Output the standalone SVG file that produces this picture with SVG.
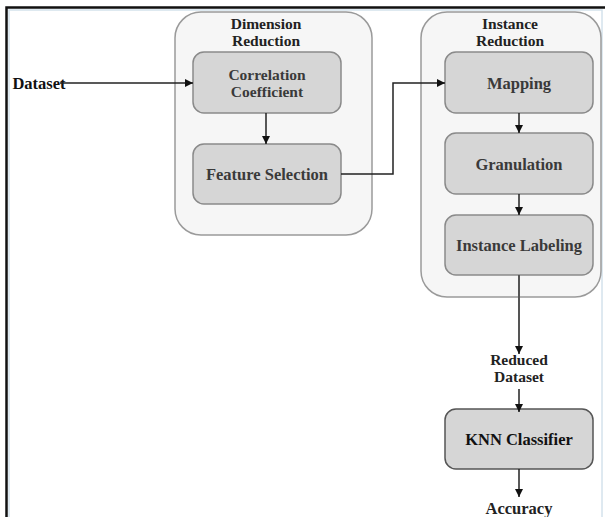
<svg xmlns="http://www.w3.org/2000/svg" width="605" height="517" viewBox="0 0 605 517">
<style>
.cont{fill:#f6f6f6;stroke:#9a9a9a;stroke-width:1.5}
.box{fill:#d6d6d6;stroke:#8a8a8a;stroke-width:1.5}
.t{font-family:"Liberation Serif","Tinos","Times New Roman","DejaVu Serif",serif;font-weight:bold;font-size:16.5px;text-anchor:middle;fill:#3a3a3a}
.t2{font-size:15.5px}
.h{font-family:"Liberation Serif","Tinos","Times New Roman","DejaVu Serif",serif;font-weight:bold;font-size:15.5px;text-anchor:middle;fill:#222}
.e{fill:none;stroke:#222;stroke-width:1.5}
</style>
<defs>
<marker id="ah" viewBox="0 0 10 10" refX="10" refY="5" markerWidth="8" markerHeight="8" markerUnits="userSpaceOnUse" orient="auto">
<path d="M0,0 L10,5 L0,10 z" fill="#111"/>
</marker>
</defs>
<rect x="0" y="0" width="605" height="517" fill="#fff"/>
<rect x="9" y="10" width="593" height="520" fill="#fff" stroke="#d4e2ec" stroke-width="1.5"/>
<path d="M6.5,517 L6.5,7.5 L605,7.5" fill="none" stroke="#111" stroke-width="2.5"/>

<g id="dimension-reduction">
<rect class="cont" x="175" y="12" width="197" height="223" rx="26"/>
<text class="h" x="266" y="29">Dimension</text>
<text class="h" x="266" y="46">Reduction</text>
</g>
<g id="instance-reduction">
<rect class="cont" x="421" y="12" width="180" height="285" rx="26"/>
<text class="h" x="510" y="29">Instance</text>
<text class="h" x="510" y="46">Reduction</text>
</g>

<g id="correlation-coefficient">
<rect class="box" x="193" y="52" width="148" height="61" rx="11"/>
<text class="t t2" x="267" y="80">Correlation</text>
<text class="t t2" x="267" y="97">Coefficient</text>
</g>
<g id="feature-selection">
<rect class="box" x="193" y="144" width="148" height="60" rx="11"/>
<text class="t" x="267" y="180">Feature Selection</text>
</g>
<g id="mapping">
<rect class="box" x="445" y="52" width="148" height="61" rx="11"/>
<text class="t" x="519" y="89">Mapping</text>
</g>
<g id="granulation">
<rect class="box" x="445" y="133" width="148" height="61" rx="11"/>
<text class="t" x="519" y="170">Granulation</text>
</g>
<g id="instance-labeling">
<rect class="box" x="445" y="215" width="148" height="60" rx="11"/>
<text class="t" x="519" y="251">Instance Labeling</text>
</g>
<g id="dataset">
<text class="t" x="39" y="89" style="fill:#111">Dataset</text>
</g>
<g id="reduced-dataset">
<text class="t t2" x="519" y="365" style="fill:#222">Reduced</text>
<text class="t t2" x="519" y="382" style="fill:#222">Dataset</text>
</g>
<g id="knn-classifier">
<rect class="box" x="445" y="409" width="148" height="60" rx="11" style="stroke:#555"/>
<text class="t" x="519" y="445" style="fill:#111">KNN Classifier</text>
</g>
<g id="accuracy">
<text class="t" x="519" y="514" style="fill:#222">Accuracy</text>
</g>

<g id="connectors">
<path class="e" d="M60,83 L193,83" marker-end="url(#ah)"/>
<path class="e" d="M266,113 L266,144" marker-end="url(#ah)"/>
<path class="e" d="M341,174 L393,174 L393,83 L445,83" marker-end="url(#ah)"/>
<path class="e" d="M519,113 L519,133" marker-end="url(#ah)"/>
<path class="e" d="M519,194 L519,215" marker-end="url(#ah)"/>
<path class="e" d="M519,275 L519,354" marker-end="url(#ah)" style="stroke:#555;stroke-width:2"/>
<path class="e" d="M519,389 L519,412" marker-end="url(#ah)"/>
<path class="e" d="M519,469 L519,497" marker-end="url(#ah)"/>
</g>
</svg>
